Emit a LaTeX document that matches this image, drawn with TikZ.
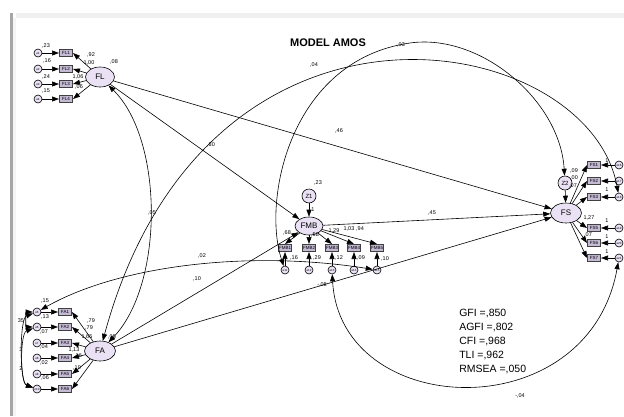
\documentclass[tikz,border=0pt]{standalone}
\usepackage{fontspec}
\setmainfont{Liberation Sans}
\usetikzlibrary{arrows.meta,shapes.geometric}

\definecolor{latfill}{RGB}{234,226,244}
\definecolor{obsfill}{RGB}{196,186,212}

\tikzset{
  latent/.style = {ellipse, draw, fill=latfill, inner sep=0pt, font=\fontsize{8}{8}\selectfont},
  disturb/.style = {circle, draw, fill=latfill, minimum size=14pt, inner sep=0pt, font=\fontsize{6}{6}\selectfont},
  obs/.style = {rectangle, draw=black!75, line width=1pt, fill=obsfill, minimum width=13pt, minimum height=7pt, inner sep=0pt, font=\fontsize{4.5}{4.5}\selectfont},
  err/.style = {circle, draw, fill=latfill, minimum size=8pt, inner sep=0pt, font=\fontsize{3}{3}\selectfont},
  coef/.style = {inner sep=0pt, font=\fontsize{5.5}{5.5}\selectfont},
  fit/.style = {inner sep=0pt, anchor=west, font=\fontsize{10.5}{10.5}\selectfont},
  reg/.style = {-{Triangle[length=7pt,width=5pt]}},
  cov/.style = {{Triangle[length=7pt,width=5pt]}-{Triangle[length=7pt,width=5pt]}},
}

\begin{document}
\begin{tikzpicture}[x=1pt, y=-1pt, line width=0.6pt]
  \useasboundingbox (0,0) rectangle (624,416);
  % window frame
  \fill[gray!12] (16,13) rectangle (624,18);
  \fill[gray!70] (10,13) rectangle (13,416);
  \fill[gray!8] (13,18) rectangle (16,416);

  \node[font=\bfseries\fontsize{11}{11}\selectfont] (title) at (328,43) {MODEL AMOS};

  % latent variables
  \node[latent, minimum width=29pt, minimum height=20pt] (FL) at (100,77) {FL};
  \node[latent, minimum width=31pt, minimum height=20pt] (FA) at (100,351) {FA};
  \node[latent, minimum width=28pt, minimum height=18pt] (FMB) at (309,226) {FMB};
  \node[latent, minimum width=31pt, minimum height=20pt] (FS) at (566,213) {FS};
  \node[disturb] (Z1) at (309,196) {Z1};
  \node[disturb] (Z2) at (565,183) {Z2};

  % indicators
  \foreach \i/\y in {1/53,2/69,3/84,4/99} {
    \node[obs] (FL\i) at (66,\y) {FL\i};
    \node[err] (e\i) at (38,\y) {e\i};
    \draw[reg] (e\i) -- (FL\i);
    \draw[reg] (FL) -- (FL\i.east);
  }
  \foreach \i/\k/\y in {1/5/312,2/6/327,3/7/343,4/8/358,5/9/374,6/10/389} {
    \node[obs] (FA\i) at (65,\y) {FA\i};
    \node[err] (e\k) at (37,\y) {e\k};
    \draw[reg] (e\k) -- (FA\i);
    \draw[reg] (FA) -- (FA\i.east);
  }
  \foreach \i/\k/\x in {1/11/285,2/12/309,3/13/332,4/14/354,5/15/377} {
    \node[obs] (FMB\i) at (\x,248) {FMB\i};
    \node[err] (e\k) at (\x,270) {e\k};
    \draw[reg] (e\k) -- (FMB\i);
    \draw[reg] (FMB) -- (FMB\i.north);
  }
  \foreach \i/\k/\y in {1/16/165,2/17/181,3/18/197,5/19/228,6/20/243,7/21/258} {
    \node[obs] (FS\i) at (594,\y) {FS\i};
    \node[err] (e\k) at (619,\y) {e\k};
    \draw[reg] (e\k) -- (FS\i);
    \draw[reg] (FS) -- (FS\i.west);
  }

  % structural paths
  \draw[reg] (FL) -- (FMB);
  \draw[reg] (FL) -- (FS);
  \draw[reg] (FA) -- (FMB);
  \draw[reg] (FA) -- (FS);
  \draw[reg] (FMB) -- (FS);
  \draw[reg] (Z1) -- (FMB);
  \draw[reg] (Z2) -- (FS);

  % covariances
  \draw[cov] (FL) .. controls (164,140) and (164,285) .. (FA);
  \draw[cov] (FA) .. controls (207,-42) and (588,30) .. (e18);
  \coordinate (top) at (410,43);
  \draw[cov] (e11) .. controls (262,200) and (290,60) .. (top) .. controls (480,33) and (560,100) .. (Z2);
  \draw[cov] (e5) .. controls (120,265) and (250,250) .. (e15);
  \draw[cov] (e13) .. controls (340,420) and (588,430) .. (e21);
  \draw[cov] (e5) to[out=180,in=180,looseness=1.2] (e6);
  \draw[cov] (e5) to[out=200,in=160,looseness=0.5] (e10);
  \draw[cov] (e6) to[out=200,in=160,looseness=0.6] (e10);

  % estimates
  \node[coef] (r08) at (114,62) {,08};
  \node[coef] (v23) at (46,46) {,23};
  \node[coef] (v16) at (47,61) {,16};
  \node[coef] (v24) at (46,77) {,24};
  \node[coef] (v15) at (46,91) {,15};
  \node[coef] (l92) at (91,55) {,92};
  \node[coef] (l100) at (89,63) {1,00};
  \node[coef] (l106) at (78,77) {1,06};
  \node[coef] (l06) at (79,87) {,06};

  \node[coef] (rfa) at (112,337) {,05};
  \node[coef] (a15) at (45,301) {,15};
  \node[coef] (a13) at (45,317) {,13};
  \node[coef] (a07) at (44,332) {,07};
  \node[coef] (a04) at (44,347) {,04};
  \node[coef] (a02) at (44,363) {,02};
  \node[coef] (a06) at (45,378) {,06};
  \node[coef] (k79a) at (91,321) {,79};
  \node[coef] (k79b) at (89,328) {,79};
  \node[coef] (k165) at (87,337) {1,65};
  \node[coef] (k113) at (74,350) {1,13};
  \node[coef] (k16) at (78,356) {,16};
  \node[coef] (k10) at (77,368) {,10};
  \node[coef] (c35) at (21,321) {35};
  \node[coef] (c3) at (21,350) {3};
  \node[coef] (c2) at (21,369) {2};

  \node[coef] (r23) at (318,183) {,23};
  \node[coef] (z1one) at (313,210) {1};
  \node[coef] (m68) at (287,233) {,68};
  \node[coef] (m58) at (315,235) {,58};
  \node[coef] (m129) at (334,231) {1,29};
  \node[coef] (m103) at (349,229) {1,03};
  \node[coef] (m94) at (360,229) {,94};
  \node[coef] (u16) at (294,258) {,16};
  \node[coef] (u29) at (317,258) {,29};
  \node[coef] (u12) at (339,258) {,12};
  \node[coef] (u09) at (361,258) {,09};
  \node[coef] (u10) at (385,259) {,10};

  \node[coef] (s09) at (574,171) {,09};
  \node[coef] (s00) at (574,178) {,00};
  \node[coef] (s07) at (573,186) {,07};
  \node[coef] (s127) at (589,218) {1,27};
  \node[coef] (s1) at (582,226) {1,};
  \node[coef] (s07b) at (588,235) {,07};
  \foreach \y in {161,190,221,237,252} {
    \node[coef] (one\y) at (607,\y) {1};
  }

  \node[coef] (p80) at (211,145) {,80};
  \node[coef] (p46) at (339,131) {,46};
  \node[coef] (p45) at (432,213) {,45};
  \node[coef] (p10) at (197,279) {,10};
  \node[coef] (p08) at (322,285) {-,08};
  \node[coef] (c05) at (152,213) {,05};
  \node[coef] (c02) at (202,256) {,02};
  \node[coef] (c04) at (314,65) {,04};
  \node[coef] (c03) at (401,45) {,03};
  \node[coef] (c04b) at (520,396) {-,04};

  % fit indices
  \node[fit] (gfi) at (459,313) {GFI =,850};
  \node[fit] (agfi) at (459,327) {AGFI =,802};
  \node[fit] (cfi) at (459,341) {CFI =,968};
  \node[fit] (tli) at (459,355) {TLI =,962};
  \node[fit] (rmsea) at (459,369) {RMSEA =,050};
\end{tikzpicture}
\end{document}
